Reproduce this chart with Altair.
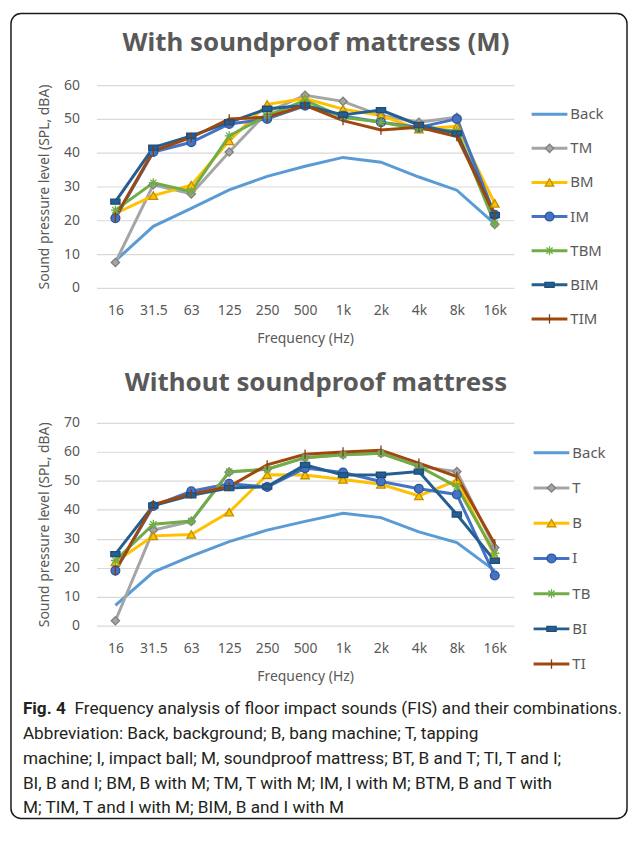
import altair as alt
import pandas as pd

# ---------------- data ----------------
freqs = ["16", "31.5", "63", "125", "250", "500", "1k", "2k", "4k", "8k", "16k"]
keys = ["Back", "T", "B", "I", "TB", "BI", "TI"]
names_m = ["Back", "TM", "BM", "IM", "TBM", "BIM", "TIM"]
names = ["Back", "T", "B", "I", "TB", "BI", "TI"]

# With soundproof mattress (M)
m_back = [8.0, 18.2, 23.5, 29.0, 33.0, 36.0, 38.6, 37.2, 32.8, 28.9, 18.9]
m_tm = [7.5, 30.5, 27.8, 40.2, 52.0, 57.0, 55.2, 51.0, 49.0, 50.5, 18.8]
m_bm = [22.0, 27.3, 30.4, 43.5, 54.3, 56.0, 52.9, 51.0, 47.0, 47.8, 25.0]
m_im = [20.6, 40.2, 43.1, 48.5, 50.0, 53.9, 50.9, 49.0, 47.5, 50.0, 21.6]
m_tbm = [23.0, 31.1, 28.5, 45.0, 51.0, 55.5, 50.5, 49.0, 47.0, 46.5, 19.0]
m_bim = [25.5, 41.5, 45.0, 49.0, 53.0, 54.0, 51.2, 52.6, 48.2, 45.7, 21.5]
m_tim = [21.0, 40.5, 44.5, 50.0, 50.5, 54.0, 49.5, 46.7, 47.5, 44.8, 21.5]

# Without soundproof mattress
n_back = [7.0, 18.5, 24.0, 29.0, 33.0, 36.0, 38.8, 37.3, 32.4, 28.7, 19.0]
n_t = [1.7, 33.0, 36.0, 53.0, 54.0, 58.0, 59.0, 59.5, 55.0, 53.2, 27.0]
n_b = [22.0, 31.0, 31.5, 39.2, 52.1, 52.0, 50.5, 48.8, 44.8, 50.2, 24.0]
n_i = [19.0, 41.3, 46.4, 49.0, 47.9, 54.4, 52.9, 49.8, 47.3, 45.3, 17.3]
n_tb = [22.5, 35.0, 36.1, 53.2, 54.0, 58.0, 59.0, 59.5, 55.0, 48.0, 25.0]
n_bi = [24.7, 41.5, 45.0, 47.5, 48.0, 55.5, 52.0, 52.1, 53.2, 38.4, 22.4]
n_ti = [19.0, 41.8, 45.5, 48.0, 55.5, 59.2, 60.0, 60.6, 56.1, 51.5, 28.2]

title_top = "With soundproof mattress (M)"
title_bottom = "Without soundproof mattress"
y_title = "Sound pressure level (SPL, dBA)"
x_title = "Frequency (Hz)"
caption_bold = "Fig. 4"
caption_first = "Frequency analysis of floor impact sounds (FIS) and their combinations."
caption_rest = [
    "Abbreviation: Back, background; B, bang machine; T, tapping",
    "machine; I, impact ball; M, soundproof mattress; BT, B and T; TI, T and I;",
    "BI, B and I; BM, B with M; TM, T with M; IM, I with M; BTM, B and T with",
    "M; TIM, T and I with M; BIM, B and I with M",
]

# ---------------- styles ----------------
line_colors = ["#5B9BD5", "#A5A5A5", "#FFC000", "#4472C4", "#70AD47", "#255E91", "#9E480E"]
marker_strokes = ["#5B9BD5", "#7F7F7F", "#BF9000", "#2F5597", "#70AD47", "#1F4E79", "#843C0C"]
AST = "M-1,0L1,0M0,-1L0,1M-0.7,-0.7L0.7,0.7M-0.7,0.7L0.7,-0.7"
RECT = "M-1,-0.55L1,-0.55L1,0.55L-1,0.55Z"
VTICK = "M0,-1L0,1"
marker_shapes = ["diamond", "triangle-up", "circle", AST, RECT, VTICK]
marker_sizes = [70, 90, 110, 70, 40, 90]

GRAY = "#595959"
FONT = "Noto Sans"


def long_df(series_list):
    rows = []
    for k, vals in zip(keys, series_list):
        for f, v in zip(freqs, vals):
            rows.append({"k": k, "f": f, "v": v})
    return pd.DataFrame(rows)


top_df = long_df([m_back, m_tm, m_bm, m_im, m_tbm, m_bim, m_tim])
bot_df = long_df([n_back, n_t, n_b, n_i, n_tb, n_bi, n_ti])
leg_top_df = pd.DataFrame({"k": keys, "name": names_m})
leg_bot_df = pd.DataFrame({"k": keys, "name": names})

color_enc = alt.Color("k:N", scale=alt.Scale(domain=keys, range=line_colors), legend=None)
fill_enc = alt.Fill("k:N", scale=alt.Scale(domain=keys, range=line_colors), legend=None)
stroke_enc = alt.Stroke("k:N", scale=alt.Scale(domain=keys, range=marker_strokes), legend=None)
shape_enc = alt.Shape("k:N", scale=alt.Scale(domain=keys[1:], range=marker_shapes), legend=None)
size_enc = alt.Size("k:N", scale=alt.Scale(domain=keys[1:], range=marker_sizes), legend=None)


def x_enc(offset):
    return alt.X(
        "f:N", sort=freqs,
        scale=alt.Scale(type="point", domain=freqs, padding=0.5),
        axis=alt.Axis(orient="bottom", offset=offset, labelAngle=0, domain=False, ticks=False,
                      grid=False, labelPadding=16, labelFontSize=14, labelColor=GRAY,
                      labelFont=FONT, title=x_title, titleFont=FONT, titleFontSize=14,
                      titleFontWeight="normal", titleColor=GRAY, titlePadding=14),
    )


def y_enc(dmax, rng):
    return alt.Y(
        "v:Q",
        scale=alt.Scale(domain=[0, dmax], range=rng, nice=False, zero=True),
        axis=alt.Axis(orient="left", values=list(range(0, dmax + 1, 10)), grid=True,
                      gridColor="#D9D9D9", gridWidth=1.2, domain=False, ticks=False,
                      labelPadding=17, labelFontSize=14, labelColor=GRAY, labelFont=FONT,
                      title=y_title, titleFont=FONT, titleFontSize=14, titleFontWeight="normal",
                      titleColor=GRAY, titlePadding=12),
    )


def panel(df, offset, dmax, rng):
    lines = alt.Chart(df).mark_line(strokeWidth=3).encode(
        x=x_enc(offset), y=y_enc(dmax, rng), color=color_enc
    )
    pts = alt.Chart(df[df.k != "Back"]).mark_point(filled=True, strokeWidth=1.3, opacity=1).encode(
        x=x_enc(offset), y=y_enc(dmax, rng), shape=shape_enc, fill=fill_enc,
        stroke=stroke_enc, size=size_enc
    )
    return alt.layer(lines, pts)


def legend(df, rng, x0):
    y = alt.Y("k:N", scale=alt.Scale(type="point", domain=keys, range=rng, padding=0), axis=None)
    rule = alt.Chart(df).mark_rule(strokeWidth=3).encode(
        x=alt.value(x0), x2=alt.value(x0 + 36), y=y, color=color_enc
    )
    pts = alt.Chart(df[df.k != "Back"]).mark_point(filled=True, strokeWidth=1.3, opacity=1).encode(
        x=alt.value(x0 + 18), y=y, shape=shape_enc, fill=fill_enc, stroke=stroke_enc, size=size_enc
    )
    txt = alt.Chart(df).mark_text(align="left", baseline="middle", fontSize=15, font=FONT,
                                  color=GRAY).encode(
        x=alt.value(x0 + 39), y=y, text="name:N"
    )
    return alt.layer(rule, pts, txt)


one = alt.Data(values=[{"a": 1}])


def text_mark(text, x, y, **kw):
    return alt.Chart(one).mark_text(**kw).encode(x=alt.value(x), y=alt.value(y), text=alt.value(text))


border = alt.Chart(one).mark_rect(filled=False, stroke="#1A1A1A", strokeWidth=1.5,
                                  cornerRadius=10).encode(
    x=alt.value(-86), x2=alt.value(534), y=alt.value(-72), y2=alt.value(738)
)

t1 = text_mark(title_top, 221, -34, align="center", baseline="alphabetic", fontSize=26,
               fontWeight="bold", font=FONT, color=GRAY)
t2 = text_mark(title_bottom, 221, 308, align="center", baseline="alphabetic", fontSize=26,
               fontWeight="bold", font=FONT, color=GRAY)

CAP_FONT = "Roboto"
CAP_SIZE = 17.3
c0 = text_mark(caption_bold, -74, 633, align="left", baseline="alphabetic", fontSize=CAP_SIZE,
               fontWeight="bold", font=CAP_FONT, color="#231F20")
c1 = text_mark(caption_first, -22, 633, align="left", baseline="alphabetic", fontSize=CAP_SIZE,
               font=CAP_FONT, color="#231F20")
c2 = text_mark(caption_rest, -74, 658, align="left", baseline="alphabetic", fontSize=CAP_SIZE,
               font=CAP_FONT, color="#231F20", lineHeight=25)

top_panel = panel(top_df, -340, 60, [204, 0])
bot_panel = panel(bot_df, 0, 70, [544, 340])
leg_top = legend(leg_top_df, [29.3, 235.3], 438)
leg_bot = legend(leg_bot_df, [370, 582.7], 440)

chart = alt.layer(
    border, t1, t2, top_panel, bot_panel, leg_top, leg_bot, c0, c1, c2
).resolve_scale(
    x="independent", y="independent"
).properties(
    width=420, height=544,
    padding={"left": 2, "top": 2, "right": 0, "bottom": 0},
).configure_view(strokeWidth=0)

chart.save("out.html", embed_options={"renderer": "svg", "actions": False})
